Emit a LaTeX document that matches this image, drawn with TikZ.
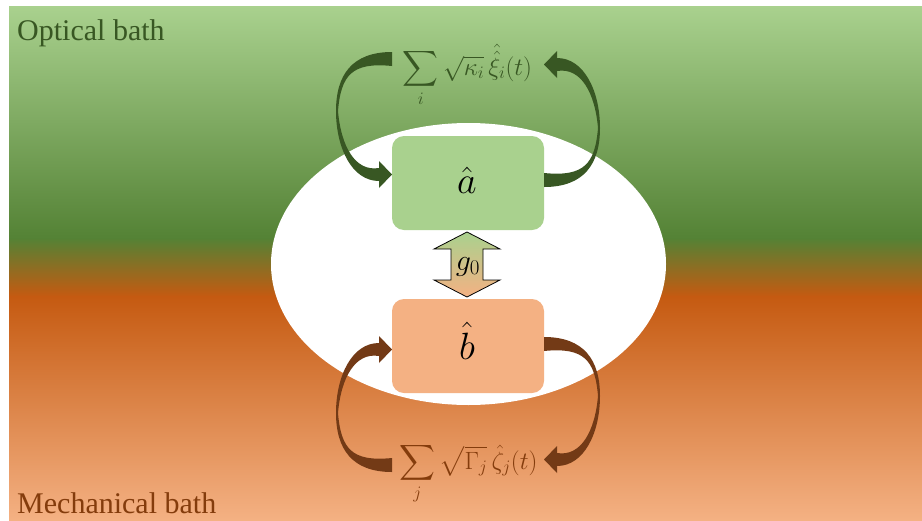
\RequirePackage{fix-cm}
\documentclass[tikz,border=0pt]{standalone}
\usepackage{fontspec}
\setmainfont{Liberation Serif}
\usepackage{amsmath}
\usetikzlibrary{shapes.geometric}

\definecolor{optlight}{HTML}{A9D18E}
\definecolor{optdark}{HTML}{548235}
\definecolor{mechdark}{HTML}{C55A11}
\definecolor{mechlight}{HTML}{F4B183}
\definecolor{optink}{HTML}{385723}
\definecolor{mechink}{HTML}{843C0C}
\definecolor{mecharrow}{HTML}{733A16}

\tikzset{
  modebox/.style={rounded corners=12pt, minimum width=152pt, minimum height=94pt, inner sep=0pt},
  bathlabel/.style={anchor=base west, inner sep=0pt, font=\fontsize{30}{34}\selectfont},
  modelabel/.style={anchor=base, inner sep=0pt, font=\fontsize{38}{42}\selectfont},
  noiselabel/.style={anchor=base, inner sep=0pt, font=\fontsize{25}{30}\selectfont},
}

% curved block arrow, twisting thin halfway along its length
\newcommand\ribbonarrow[1]{%
  \fill[#1] (392,52) .. controls (352,52) and (336,75) .. (336,111)
    .. controls (336,148) and (352,181) .. (379,181)
    -- (379,188) -- (392,174.5) -- (379,161) -- (379,168)
    .. controls (355,172) and (341,146) .. (338,111)
    .. controls (341,75) and (352,62) .. (392,66) -- cycle;}

\begin{document}
\begin{tikzpicture}[x=1pt,y=-1pt]
\useasboundingbox (0,0) rectangle (922,520);

% bath backgrounds
\shade[top color=optlight, bottom color=optdark] (9,6) rectangle (922,238.5);
\shade[top color=optdark, bottom color=mechdark] (9,238) rectangle (922,296.5);
\shade[top color=mechdark, bottom color=mechlight] (9,296) rectangle (922,520);

\node[bathlabel, text=optink] (optbath) at (17,40) {Optical bath};
\node[bathlabel, text=mechink] (mechbath) at (17,513) {Mechanical bath};

% cavity region
\node[ellipse, fill=white, inner sep=0pt, minimum width=395pt, minimum height=282pt] (cavity) at (468.5,264) {};

% modes
\node[modebox, fill=optlight] (amode) at (468,183) {};
\node[modebox, fill=mechlight] (bmode) at (468,346) {};
\node[modelabel] (alabel) at (467,193) {$\hat{a}$};
\node[modelabel] (blabel) at (467,359) {$\hat{b}$};

% coupling arrow
\coordinate (coupling) at (467,264.5);
\begin{scope}[shift={(coupling)}]
  \shadedraw[top color=optlight, bottom color=mechlight, draw=black, line width=0.8pt, line join=miter]
    (0,-32.5) -- (33,-15.5) -- (16,-15.5) -- (16,15.5) -- (33,15.5) -- (0,32.5)
    -- (-33,15.5) -- (-16,15.5) -- (-16,-15.5) -- (-33,-15.5) -- cycle;
\end{scope}
\node[anchor=base, inner sep=0pt, font=\fontsize{30}{34}\selectfont] (glabel) at (468,270) {$g_0$};

% noise inputs
\node[noiselabel, text=optink] (optnoise) at (467.5,75) {$\displaystyle\sum_i \sqrt{\kappa_i}\,\hat{\hat{\xi}}_i(t)$};
\node[noiselabel, text=mechink] (mechnoise) at (468.5,469) {$\displaystyle\sum_j \sqrt{\Gamma_j}\,\hat{\zeta}_j(t)$};

% bath exchange arrows
\ribbonarrow{optink}
\begin{scope}[shift={(936,239)}, xscale=-1, yscale=-1]
  \ribbonarrow{optink}
\end{scope}
\begin{scope}[shift={(0,524)}, yscale=-1]
  \ribbonarrow{mecharrow}
\end{scope}
\begin{scope}[shift={(936,285)}, xscale=-1]
  \ribbonarrow{mecharrow}
\end{scope}
\end{tikzpicture}
\end{document}
